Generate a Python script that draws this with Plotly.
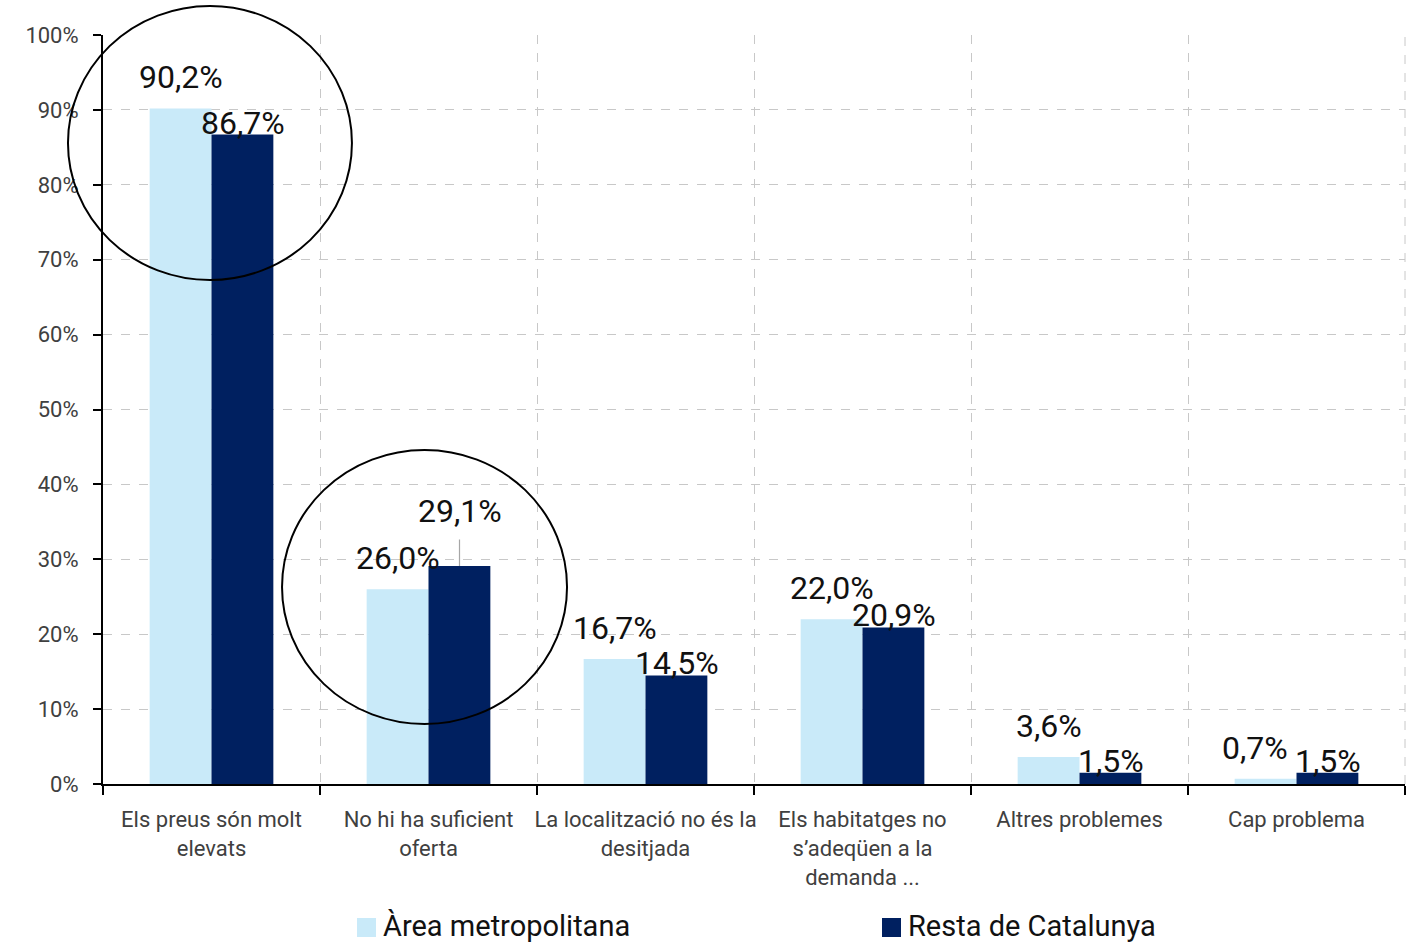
import plotly.graph_objects as go

categories = ["Els preus són molt<br>elevats", "No hi ha suficient<br>oferta",
              "La localització no és la<br>desitjada", "Els habitatges no<br>s’adeqüen a la<br>demanda ...",
              "Altres problemes", "Cap problema"]
area_metro = [90.2, 26.0, 16.7, 22.0, 3.6, 0.7]
resta_cat = [86.7, 29.1, 14.5, 20.9, 1.5, 1.5]
series_names = ["Àrea metropolitana", "Resta de Catalunya"]
y_ticks = [0, 10, 20, 30, 40, 50, 60, 70, 80, 90, 100]

LIGHT = "#C9EAF9"
DARK = "#002060"
FONT = "Roboto, sans-serif"
GRID = "#C8C8C8"

def fmt(v):
    return f"{v:.1f}".replace(".", ",") + "%"

fig = go.Figure()
fig.add_trace(go.Bar(x=categories, y=area_metro, name=series_names[0], marker_color=LIGHT,
                     marker_line_width=0, showlegend=False))
fig.add_trace(go.Bar(x=categories, y=resta_cat, name=series_names[1], marker_color=DARK,
                     marker_line_width=0, showlegend=False))

LBL = dict(size=32, color="#111111", family=FONT)
annotations = []
light_xshift = [-31, -31, -31, -31, -31, -42]
for i, (c, v) in enumerate(zip(categories, area_metro)):
    annotations.append(dict(x=c, y=v, text=fmt(v), showarrow=False, xshift=light_xshift[i], yshift=31,
                            yanchor="middle", font=LBL))
for i, (c, v) in enumerate(zip(categories, resta_cat)):
    if i == 1:
        annotations.append(dict(x=c, y=v, text=fmt(v), showarrow=True, arrowhead=0, arrowwidth=1.2,
                                arrowcolor="#A6A6A6", ax=0, ay=-55, xshift=31, startstandoff=8,
                                font=LBL))
    else:
        annotations.append(dict(x=c, y=v, text=fmt(v), showarrow=False, xshift=31, yshift=12,
                                yanchor="middle", font=LBL))

# legend drawn below the plot area
LEG_FONT = dict(size=29, color="#111111", family=FONT)
legend_colors = [LIGHT, DARK]
legend_x = [0.1951, 0.5983]
shapes = []
for name, col, lx in zip(series_names, legend_colors, legend_x):
    shapes.append(dict(type="rect", xref="paper", yref="paper", x0=lx, x1=lx + 0.0146,
                       y0=-0.2043, y1=-0.1789, fillcolor=col, line=dict(width=0)))
    annotations.append(dict(xref="paper", yref="paper", x=lx + 0.0195, y=-0.2136, text=name,
                            showarrow=False, xanchor="left", yanchor="bottom", font=LEG_FONT,
                            borderpad=0))

shapes += [
    dict(type="circle", xref="paper", yref="paper", x0=-0.0269, x1=0.1912, y0=0.6729, y1=1.0387,
         line=dict(color="black", width=2)),
    dict(type="circle", xref="paper", yref="paper", x0=0.1375, x1=0.3564, y0=0.0801, y1=0.4459,
         line=dict(color="black", width=2)),
    dict(type="line", xref="paper", yref="paper", x0=1, x1=1, y0=0, y1=1, layer="below",
         line=dict(color=GRID, width=1, dash="dash")),
]

fig.update_layout(
    width=1409, height=945,
    margin=dict(l=103, r=4, t=35, b=161),
    paper_bgcolor="white", plot_bgcolor="white",
    barmode="group", bargap=0.43, bargroupgap=0,
    font=dict(family=FONT, color="#404040", size=22),
    showlegend=False,
    annotations=annotations,
    shapes=shapes,
)
fig.update_xaxes(
    type="category", range=[-0.5, 5.5], autorange=False,
    tickson="boundaries", ticks="outside", ticklen=9, tickwidth=2, tickcolor="black",
    showline=True, linecolor="black", linewidth=2, tickangle=0, ticklabelstandoff=15,
    showgrid=True, gridcolor=GRID, griddash="dash", gridwidth=1,
    tickfont=dict(size=22, color="#404040", family=FONT),
)
fig.update_yaxes(
    range=[0, 100], autorange=False, tickvals=y_ticks, ticktext=[f"{t}%" for t in y_ticks],
    ticks="outside", ticklen=8, tickwidth=2, tickcolor="black",
    showline=True, linecolor="black", linewidth=2,
    showgrid=True, gridcolor=GRID, griddash="dash", gridwidth=1, zeroline=False,
    tickfont=dict(size=22, color="#404040", family=FONT), ticklabelstandoff=10,
)

fig.write_html("out.html")
